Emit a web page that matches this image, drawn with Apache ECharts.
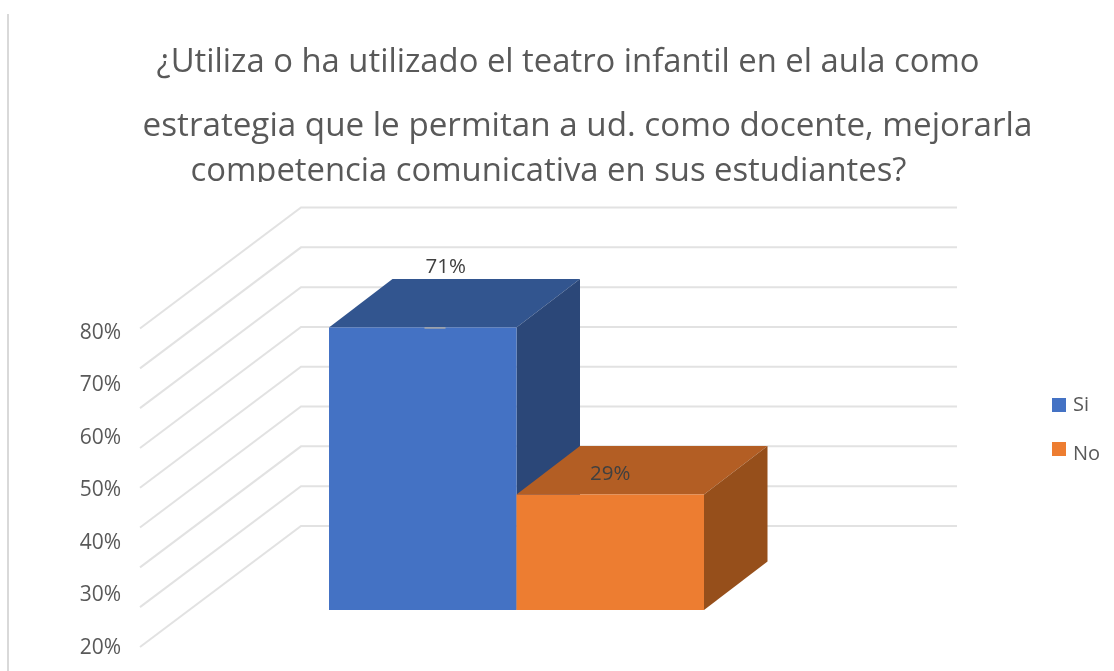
<!DOCTYPE html>
<html>
<head>
<meta charset="utf-8">
<script src="https://cdn.jsdelivr.net/npm/echarts@6/dist/echarts.min.js"></script>
<style>
	html, body { margin: 0; padding: 0; background: #fff; }
	#chart { width: 1114px; height: 671px; }
</style>
</head>
<body>
<div id="chart"></div>
<script>
var categories = [''];
var seriesNames = ['Si', 'No'];
var siValues = [71];
var noValues = [29];
var gridValues = [10, 20, 30, 40, 50, 60, 70, 80, 90];
var tickMin = 20;
var tickMax = 80;
var tickStep = 10;
var titleLines = [
	'¿Utiliza o ha utilizado el teatro infantil en el aula como',
	'estrategia que le permitan a ud. como docente, mejorarla',
	'competencia comunicativa en sus estudiantes?'
];

var FONT = '"Open Sans", "Noto Sans", sans-serif';
var BAR_W = 187.5;
var DEPTH_X = 63.5, DEPTH_Y = -48.5;

// paredes del grafico 3d: linea lateral + linea del fondo
function renderWall(params, api) {
	var p = api.coord([0, api.value(0)]);
	var cx = params.coordSys.x;
	var w = params.coordSys.width;
	var backY = p[1] - 44.25;
	return {
		type : 'polyline',
		shape : {
			points : [ [ cx - 189, backY + 121 ], [ cx - 28, backY ], [ cx + w + 253, backY ] ]
		},
		style : { fill : null, stroke : '#e2e2e2', lineWidth : 2 }
	};
}

function renderDepth(topColor, sideColor, offset) {
	return function(params, api) {
		var top = api.coord([0, api.value(0)]);
		var zero = api.coord([0, 0]);
		var x0 = top[0] + offset;
		var x1 = x0 + BAR_W;
		return {
			type : 'group',
			children : [
				{
					type : 'polygon',
					shape : { points : [ [ x0, top[1] ], [ x0 + DEPTH_X, top[1] + DEPTH_Y ], [ x1 + DEPTH_X, top[1] + DEPTH_Y ], [ x1, top[1] ] ] },
					style : { fill : topColor }
				},
				{
					type : 'polygon',
					shape : { points : [ [ x1, top[1] ], [ x1 + DEPTH_X, top[1] + DEPTH_Y ], [ x1 + DEPTH_X, zero[1] + DEPTH_Y ], [ x1, zero[1] ] ] },
					style : { fill : sideColor }
				}
			]
		};
	};
}

// rayita gris sobre la barra azul
function renderLeader(params, api) {
	var top = api.coord([0, api.value(0)]);
	return {
		type : 'line',
		shape : { x1 : top[0] - 92, y1 : top[1] + 0.5, x2 : top[0] - 71, y2 : top[1] + 0.5 },
		style : { stroke : '#a9a9a9', lineWidth : 1.5 }
	};
}

var titles = titleLines.map(function(t, i) {
	return {
		text : t,
		left : [ 563, 582.5, 543.5 ][i],
		top : [ 41, 105, 150 ][i],
		textAlign : 'center',
		textStyle : { color : '#595959', fontFamily : FONT, fontWeight : 'normal', fontSize : [ 32.8, 33.2, 32.8 ][i] }
	};
});

var option = {
	animation : false,
	backgroundColor : '#fff',
	title : titles,
	legend : {
		data : seriesNames,
		orient : 'vertical',
		left : 1047,
		top : 390,
		itemWidth : 14,
		itemHeight : 14,
		itemGap : 27,
		icon : 'rect',
		formatter : function(name) {
			return name == seriesNames[1] ? '{low|' + name + '}' : name;
		},
		textStyle : {
			color : '#595959',
			fontFamily : FONT,
			fontSize : 20,
			padding : [ 0, 0, 0, 2 ],
			rich : {
				low : { color : '#595959', fontFamily : FONT, fontSize : 20, padding : [ 10, 0, 0, 0 ] }
			}
		}
	},
	grid : [
		{ left : 329, width : 375, top : 212, height : 398 },
		{ left : 122, width : 1, top : 333, height : 315 }
	],
	xAxis : [
		{ type : 'category', data : categories, show : false, gridIndex : 0 },
		{ type : 'category', data : categories, show : false, gridIndex : 1 }
	],
	yAxis : [
		{ type : 'value', min : 0, max : 100, show : false, splitLine : { show : false }, gridIndex : 0 },
		{
			type : 'value',
			gridIndex : 1,
			min : tickMin,
			max : tickMax,
			interval : tickStep,
			axisLine : { show : false },
			axisTick : { show : false },
			splitLine : { show : false },
			axisLabel : {
				margin : 1,
				formatter : '{value}%',
				color : '#595959',
				fontFamily : FONT,
				fontSize : 21
			}
		}
	],
	graphic : [
		// linea vertical a la izquierda y corte del titulo
		{ type : 'line', shape : { x1 : 8, y1 : 14, x2 : 8, y2 : 671 }, style : { stroke : '#d9d9d9', lineWidth : 2 } },
		{ type : 'rect', shape : { x : 100, y : 182, width : 950, height : 22 }, style : { fill : '#fff' }, z : 100 }
	],
	series : [
		{
			name : 'paredes',
			type : 'custom',
			renderItem : renderWall,
			encode : { y : 0 },
			data : gridValues.map(function(v) { return [ v ]; }),
			silent : true,
			z : 1
		},
		{
			name : 'Si fondo',
			type : 'custom',
			renderItem : renderDepth('#32558f', '#2b4778', -BAR_W),
			encode : { y : 0 },
			data : siValues.map(function(v) { return [ v ]; }),
			silent : true,
			z : 2
		},
		{
			name : 'No fondo',
			type : 'custom',
			renderItem : renderDepth('#b35e24', '#964f1b', 0),
			encode : { y : 0 },
			data : noValues.map(function(v) { return [ v ]; }),
			silent : true,
			z : 3
		},
		{
			name : seriesNames[0],
			type : 'bar',
			data : siValues,
			barWidth : BAR_W,
			barGap : 0,
			itemStyle : { color : '#4472c4' },
			label : {
				show : true,
				position : 'top',
				distance : 0,
				offset : [ 23, -50 ],
				formatter : '{c}%',
				color : '#404040',
				fontFamily : FONT,
				fontSize : 20.5
			},
			z : 4
		},
		{
			name : seriesNames[1],
			type : 'bar',
			data : noValues,
			barWidth : BAR_W,
			barGap : 0,
			itemStyle : { color : '#ed7d31' },
			label : {
				show : true,
				position : 'top',
				distance : 0,
				offset : [ 0, -10 ],
				formatter : '{c}%',
				color : '#404040',
				fontFamily : FONT,
				fontSize : 20.5
			},
			z : 4
		},
		{
			name : 'guia',
			type : 'custom',
			renderItem : renderLeader,
			encode : { y : 0 },
			data : siValues.map(function(v) { return [ v ]; }),
			silent : true,
			z : 5
		}
	]
};

var chart = echarts.init(document.getElementById('chart'));
chart.setOption(option);
</script>
</body>
</html>
